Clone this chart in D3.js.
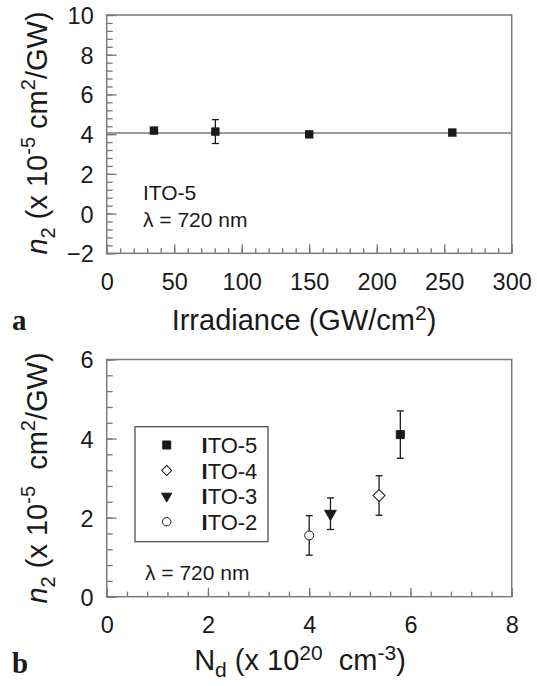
<!DOCTYPE html>
<html>
<head>
<meta charset="utf-8">
<script src="https://cdn.jsdelivr.net/npm/d3@7"></script>
<style>
  body { margin: 0; background: #fff; }
  svg { display: block; font-family: "Liberation Sans", Arial, sans-serif; }
  text { white-space: pre; }
</style>
</head>
<body>
<svg id="chart" width="537" height="686"></svg>
<script>
// panel a: n2 vs irradiance (ITO-5, 720 nm)
const irradiance = [35, 80.5, 150, 256];
const n2Irr = [4.18, 4.13, 3.99, 4.08];
const n2IrrErr = [0, 0.6, 0, 0];
const fitLevel = 4.06;
const xTicksA = [0, 50, 100, 150, 200, 250, 300];
const yTicksA = [-2, 0, 2, 4, 6, 8, 10];

// panel b: n2 vs carrier density
const samples = ["ITO-5", "ITO-4", "ITO-3", "ITO-2"];
const nd = [5.8, 5.38, 4.42, 4.0];
const n2Nd = [4.1, 2.56, 2.1, 1.55];
const n2NdErr = [0.6, 0.5, 0.4, 0.5];
const xTicksB = [0, 2, 4, 6, 8];
const yTicksB = [0, 2, 4, 6];

const svg = d3.select("#chart");
const GRAY = "#7a7a7a";
const INK = "#1a1a1a";

// marker shapes per sample
const shapes = {
  "ITO-5": { type: d3.symbolSquare, size: 64, rot: 0, fill: INK },
  "ITO-4": { type: d3.symbolSquare, size: 50, rot: 45, fill: "#fff" },
  "ITO-3": { type: d3.symbolTriangle, size: 45, rot: 180, fill: INK },
  "ITO-2": { type: d3.symbolCircle, size: 56, rot: 0, fill: "#fff" }
};

function frame(g, x, y, xMajor, xMinor, yMajor, yMinor) {
  const [l, r] = x.range();
  const [b, t] = y.range();

  // minor ticks (inside)
  g.append("g").attr("transform", `translate(0,${b})`)
    .call(d3.axisBottom(x).tickValues(xMinor).tickSize(-5).tickFormat(""))
    .call(a => a.select(".domain").remove());
  g.append("g").attr("transform", `translate(${l},0)`)
    .call(d3.axisLeft(y).tickValues(yMinor).tickSize(-6).tickFormat(""))
    .call(a => a.select(".domain").remove());

  // major ticks with labels
  const xa = g.append("g").attr("transform", `translate(0,${b})`)
    .call(d3.axisBottom(x).tickValues(xMajor).tickSize(-9).tickPadding(20).tickFormat(d3.format("d")));
  xa.select(".domain").remove();
  const ya = g.append("g").attr("transform", `translate(${l},0)`)
    .call(d3.axisLeft(y).tickValues(yMajor).tickSize(-10).tickPadding(13).tickFormat(d3.format("d")));
  ya.select(".domain").remove();

  g.selectAll(".tick line").attr("stroke", GRAY).attr("stroke-width", 1.3);
  g.selectAll(".tick text").attr("fill", INK).attr("font-size", 23.5)
    .attr("font-family", "Liberation Sans, Arial, sans-serif");
  ya.selectAll(".tick text").attr("dy", "0.36em");

  g.append("rect")
    .attr("x", l).attr("y", t).attr("width", r - l).attr("height", b - t)
    .attr("fill", "none").attr("stroke", GRAY).attr("stroke-width", 1.5);
}

function yTitle(g, x, cy, gap) {
  const t = g.append("text")
    .attr("transform", `translate(${x},${cy}) rotate(-90)`)
    .attr("text-anchor", "middle").attr("font-size", 29).attr("fill", INK);
  t.append("tspan").attr("font-style", "italic").text("n");
  t.append("tspan").attr("font-size", 20).attr("dy", 8).text("2");
  t.append("tspan").attr("dy", -8).text(" (x 10");
  t.append("tspan").attr("font-size", 20).attr("dy", -12).text("-5");
  t.append("tspan").attr("dy", 12).text(gap + "cm");
  t.append("tspan").attr("font-size", 20).attr("dy", -12).text("2");
  t.append("tspan").attr("dy", 12).text("/GW)");
}

function errorBars(g, pts, x, y) {
  const cap = 3.5;
  const eb = g.append("g").attr("stroke", INK).attr("stroke-width", 1.3);
  pts.filter(d => d.err > 0).forEach(d => {
    const cx = x(d.x), y0 = y(d.y - d.err), y1 = y(d.y + d.err);
    eb.append("line").attr("x1", cx).attr("x2", cx).attr("y1", y0).attr("y2", y1);
    eb.append("line").attr("x1", cx - cap).attr("x2", cx + cap).attr("y1", y0).attr("y2", y0);
    eb.append("line").attr("x1", cx - cap).attr("x2", cx + cap).attr("y1", y1).attr("y2", y1);
  });
}

// ---------- panel a ----------
const xA = d3.scaleLinear().domain([0, 300]).range([106.7, 511.7]);
const yA = d3.scaleLinear().domain([-2, 10]).range([253.3, 15]);
const gA = svg.append("g");

gA.append("line")
  .attr("x1", xA(0)).attr("x2", xA(300))
  .attr("y1", yA(fitLevel)).attr("y2", yA(fitLevel))
  .attr("stroke", GRAY).attr("stroke-width", 1.6);

frame(gA, xA, yA, xTicksA, d3.range(0, 301, 10), yTicksA, d3.range(-2, 10.01, 0.4));

const ptsA = irradiance.map((v, i) => ({ x: v, y: n2Irr[i], err: n2IrrErr[i] }));
errorBars(gA, ptsA, xA, yA);
gA.selectAll(".sq").data(ptsA).join("rect").attr("class", "sq")
  .attr("x", d => xA(d.x) - 4.2).attr("y", d => yA(d.y) - 4.2)
  .attr("width", 8.4).attr("height", 8.4).attr("fill", INK);

gA.append("text").attr("x", 143).attr("y", 200).attr("font-size", 21).attr("fill", INK).text("ITO-5");
gA.append("text").attr("x", 143).attr("y", 227).attr("font-size", 21).attr("fill", INK).text("λ = 720 nm");

const xtA = gA.append("text").attr("x", 304).attr("y", 330)
  .attr("text-anchor", "middle").attr("font-size", 29).attr("fill", INK);
xtA.append("tspan").text("Irradiance (GW/cm");
xtA.append("tspan").attr("font-size", 21).attr("dy", -10).text("2");
xtA.append("tspan").attr("dy", 10).text(")");

yTitle(gA, 47, 133, " ");

svg.append("text").attr("x", 12).attr("y", 330).attr("font-size", 29)
  .attr("font-weight", "bold").attr("font-family", "Liberation Serif, Times New Roman, serif")
  .attr("fill", INK).text("a");

// ---------- panel b ----------
const xB = d3.scaleLinear().domain([0, 8]).range([106.7, 511.7]);
const yB = d3.scaleLinear().domain([0, 6]).range([596.7, 359.5]);
const gB = svg.append("g");

frame(gB, xB, yB, xTicksB, d3.range(0, 8.01, 0.4), yTicksB, d3.range(0, 6.01, 0.4));

const ptsB = samples.map((s, i) => ({ s, x: nd[i], y: n2Nd[i], err: n2NdErr[i] }));
errorBars(gB, ptsB, xB, yB);

const big = { "ITO-5": 64, "ITO-4": 72, "ITO-3": 60, "ITO-2": 64 };
gB.selectAll(".mk").data(ptsB).join("path").attr("class", "mk")
  .attr("d", d => d3.symbol().type(shapes[d.s].type).size(big[d.s])())
  .attr("transform", d => `translate(${xB(d.x)},${yB(d.y)}) rotate(${shapes[d.s].rot})`)
  .attr("fill", d => shapes[d.s].fill).attr("stroke", INK).attr("stroke-width", 1);

// legend
const lg = gB.append("g");
lg.append("rect").attr("x", 135).attr("y", 426.7).attr("width", 133).attr("height", 115)
  .attr("fill", "#fff").attr("stroke", "#444").attr("stroke-width", 1.2);
const rowY = d3.scalePoint().domain(samples).range([445, 521.7]);
samples.forEach(s => {
  const sh = shapes[s];
  lg.append("path")
    .attr("d", d3.symbol().type(sh.type).size(sh.size)())
    .attr("transform", `translate(166.7,${rowY(s)}) rotate(${sh.rot})`)
    .attr("fill", sh.fill).attr("stroke", INK).attr("stroke-width", 1);
  const t = lg.append("text").attr("x", 201.5).attr("y", rowY(s) + 8)
    .attr("font-size", 22).attr("fill", INK);
  t.append("tspan").attr("font-weight", "bold").text(s.slice(0, 1));
  t.append("tspan").text(s.slice(1));
});

gB.append("text").attr("x", 145).attr("y", 580).attr("font-size", 21).attr("fill", INK).text("λ = 720 nm");

const xtB = gB.append("text").attr("x", 300).attr("y", 670)
  .attr("text-anchor", "middle").attr("font-size", 29).attr("fill", INK);
xtB.append("tspan").text("N");
xtB.append("tspan").attr("font-size", 21).attr("dy", 7).text("d");
xtB.append("tspan").attr("dy", -7).text(" (x 10");
xtB.append("tspan").attr("font-size", 21).attr("dy", -10).text("20");
xtB.append("tspan").attr("dy", 10).text("  cm");
xtB.append("tspan").attr("font-size", 21).attr("dy", -10).text("-3");
xtB.append("tspan").attr("dy", 10).text(")");

yTitle(gB, 47, 478, "  ");

svg.append("text").attr("x", 12).attr("y", 673).attr("font-size", 29)
  .attr("font-weight", "bold").attr("font-family", "Liberation Serif, Times New Roman, serif")
  .attr("fill", INK).text("b");
</script>
</body>
</html>
